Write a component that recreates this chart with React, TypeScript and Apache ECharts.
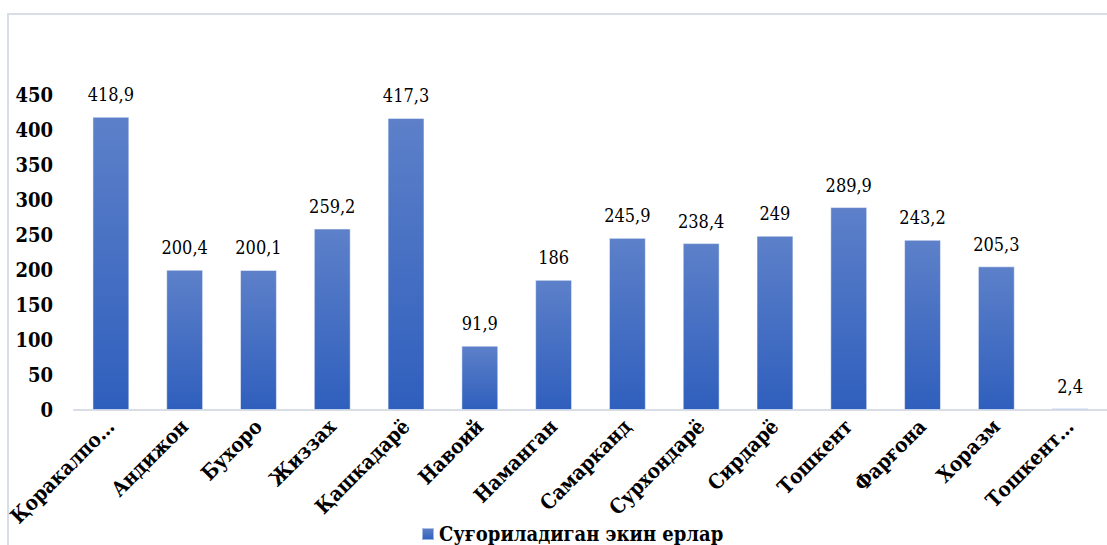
import React, { useEffect, useRef } from "react";
import * as echarts from "echarts";

const categories = [
  "Қоракалпо…",
  "Андижон",
  "Бухоро",
  "Жиззах",
  "Қашкадарё",
  "Навоий",
  "Наманган",
  "Самарканд",
  "Сурхондарё",
  "Сирдарё",
  "Тошкент",
  "Фарғона",
  "Хоразм",
  "Тошкент…",
];
const values = [418.9, 200.4, 200.1, 259.2, 417.3, 91.9, 186, 245.9, 238.4, 249, 289.9, 243.2, 205.3, 2.4];
const seriesName = "Суғориладиган экин ерлар";

const FONT = "DejaVu Serif Condensed";

export default function App() {
  const ref = useRef<HTMLDivElement>(null);
  useEffect(() => {
    if (!ref.current) return;
    const chart = echarts.init(ref.current, null, { renderer: "svg" });
    chart.setOption({
      animation: false,
      backgroundColor: "#ffffff",
      textStyle: { fontFamily: FONT },
      graphic: [
        {
          type: "rect",
          shape: { x: 8, y: 14, width: 1130, height: 560 },
          style: { fill: "none", stroke: "#d9dee6", lineWidth: 2 },
          silent: true,
          z: -1,
        },
      ],
      grid: { left: 74, width: 1045, top: 95, bottom: 135 },
      legend: {
        left: 416,
        top: 518,
        itemWidth: 12,
        itemHeight: 12,
        itemGap: 6,
        icon: "rect",
        textStyle: { fontFamily: FONT, fontWeight: "bold", fontSize: 20, lineHeight: 22, color: "#000" },
        data: [seriesName],
      },
      xAxis: {
        type: "category",
        data: categories,
        boundaryGap: true,
        axisLine: { lineStyle: { color: "#d9dee6", width: 2 } },
        axisTick: { show: false },
        axisLabel: {
          rotate: 45,
          interval: 0,
          margin: 13,
          fontFamily: FONT,
          fontWeight: "bold",
          fontSize: 20.5,
          color: "#000",
        },
      },
      yAxis: {
        type: "value",
        min: 0,
        max: 450,
        interval: 50,
        splitLine: { show: false },
        axisLine: { show: false },
        axisTick: { show: false },
        axisLabel: {
          margin: 21,
          fontFamily: FONT,
          fontWeight: "bold",
          fontSize: 20,
          color: "#000",
        },
      },
      series: [
        {
          name: seriesName,
          type: "bar",
          data: values,
          barWidth: "50%",
          itemStyle: {
            color: new echarts.graphic.LinearGradient(0, 0, 0, 1, [
              { offset: 0, color: "#5d80c9" },
              { offset: 1, color: "#2f5fbd" },
            ]),
            borderColor: "rgba(255,255,255,0.5)",
            borderWidth: 1,
          },
          label: {
            show: true,
            position: "top",
            distance: 13,
            fontFamily: FONT,
            fontSize: 18,
            color: "#000",
            formatter: (p: any) => String(p.value).replace(".", ","),
          },
        },
      ],
    });
    return () => chart.dispose();
  }, []);
  return (
    <div
      ref={ref}
      style={{ position: "fixed", left: 0, top: 0, width: 1107, height: 545, background: "#fff" }}
    />
  );
}
